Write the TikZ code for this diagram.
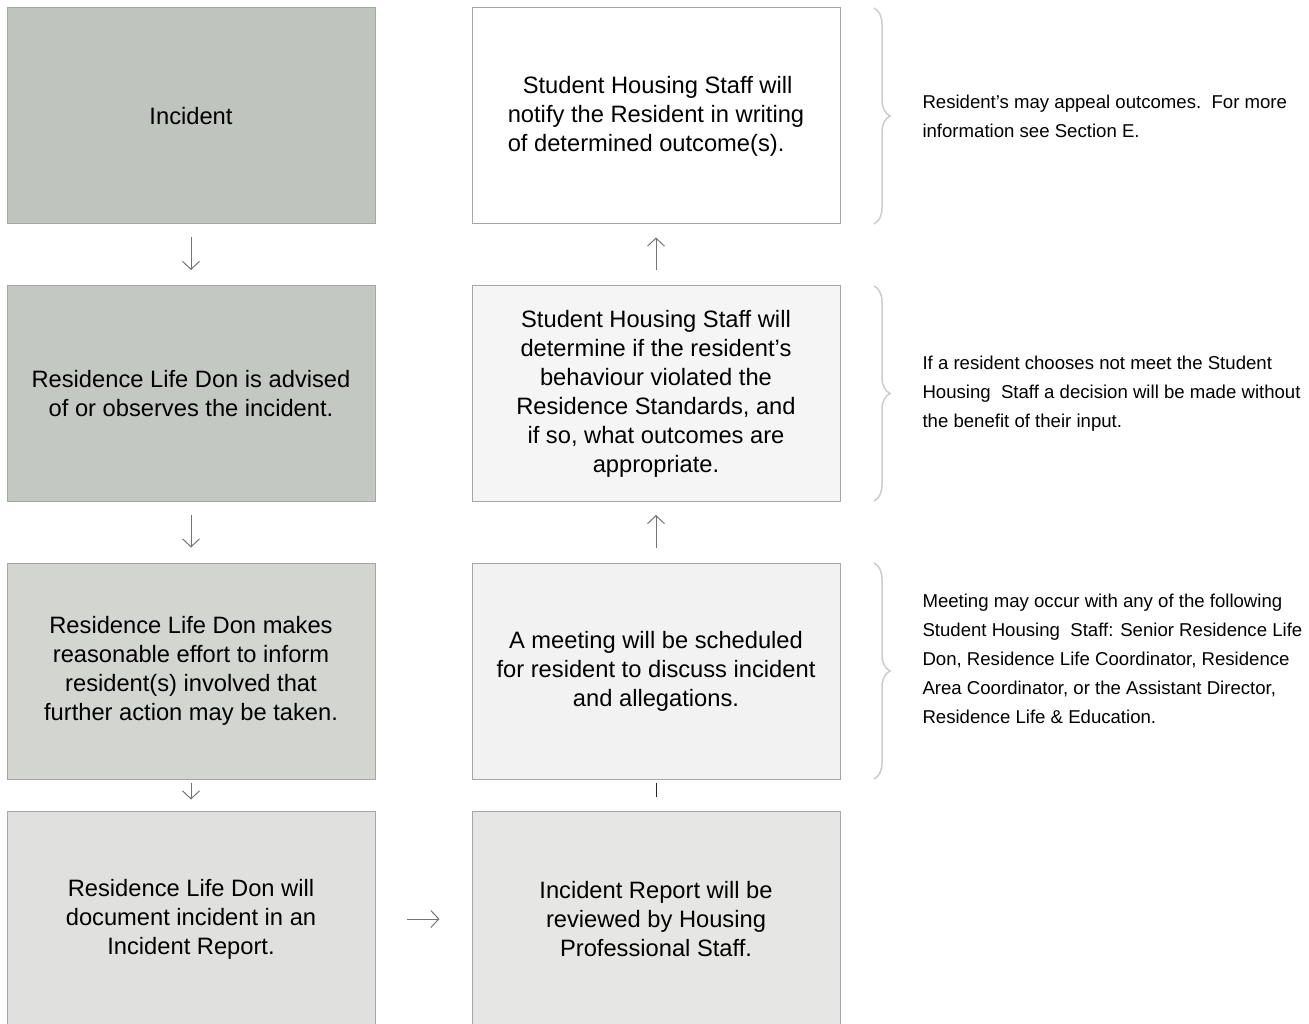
\documentclass[tikz,border=0pt]{standalone}
\usepackage{fontspec}
\setmainfont{Liberation Sans}
\usetikzlibrary{arrows.meta,decorations.pathreplacing}

\definecolor{fillA}{HTML}{BFC4BE}
\definecolor{fillB}{HTML}{C4C8C2}
\definecolor{fillC}{HTML}{D3D5D1}
\definecolor{fillD}{HTML}{E0E1DE}
\definecolor{fillE}{HTML}{F5F5F5}
\definecolor{fillF}{HTML}{F2F2F2}
\definecolor{fillG}{HTML}{E6E7E4}
\definecolor{edgegray}{HTML}{A6A6A6}

\tikzset{
  stepbox/.style={draw=edgegray,line width=1pt,minimum width=368,minimum height=216,
    inner sep=0pt,align=center,font=\fontsize{23.7}{29}\selectfont},
  sidenote/.style={anchor=west,align=left,inner sep=0pt,font=\fontsize{18.6}{29}\selectfont},
  bracket/.style={draw=black!20,line width=1.5pt,decorate,decoration={brace,amplitude=16}}
}

\begin{document}
\begin{tikzpicture}[x=1pt,y=-1pt,>={Straight Barb[length=8pt,width=17pt]},line width=1pt]
  \useasboundingbox (0,0) rectangle (1309,1024);
  \clip (0,0) rectangle (1309,1024);
  \node[stepbox,fill=fillA] (l1) at (191, 116) {Incident};
  \node[stepbox,fill=fillB] (l2) at (191, 393.5) {Residence Life Don is advised\\of or observes the incident.};
  \node[stepbox,fill=fillC] (l3) at (191, 671) {Residence Life Don makes\\reasonable effort to inform\\resident(s) involved that\\further action may be taken.};
  \node[stepbox,fill=fillD] (l4) at (191, 919) {Residence Life Don will\\document incident in an\\Incident Report.};
  \node[stepbox,fill=white,align=left] (r1) at (656, 116) {\hspace*{15pt}Student Housing Staff will\\notify the Resident in writing\\of determined outcome(s).};
  \node[stepbox,fill=fillE] (r2) at (656, 393.5) {Student Housing Staff will\\determine if the resident's\\behaviour violated the\\Residence Standards, and\\if so, what outcomes are\\appropriate.};
  \node[stepbox,fill=fillF] (r3) at (656, 671) {A meeting will be scheduled\\for resident to discuss incident\\and allegations.};
  \node[stepbox,fill=fillG] (r4) at (656, 919) {Incident Report will be\\reviewed by Housing\\Professional Staff.};
  \path[->,draw=black!55] (l1) edge[shorten <=13pt,shorten >=15pt] (l2);
  \path[->,draw=black!55] (l2) edge[shorten <=13pt,shorten >=15pt] (l3);
  \path[->,draw=black!55] (l3) edge[shorten <=3pt,shorten >=11pt] (l4);
  \path[->,draw=black!55] (l4) edge[shorten <=31pt,shorten >=32pt] (r4);
  \path[draw=black!85] (r4) edge[shorten <=14pt,shorten >=3pt] (r3);
  \path[->,draw=black!55] (r3) edge[shorten <=15pt,shorten >=13pt] (r2);
  \path[->,draw=black!55] (r2) edge[shorten <=15pt,shorten >=13pt] (r1);
  \draw[bracket] (874,8) -- (874,224);
  \draw[bracket] (874,286) -- (874,501);
  \draw[bracket] (874,563) -- (874,779);
  \node[sidenote] (n1) at (922, 116) {Resident's may appeal outcomes.\ \ For more\\information see Section E.};
  \node[sidenote] (n2) at (922, 394) {If a resident chooses not meet the Student\\Housing\ \ Staff a decision will be made without\\the benefit of their input.};
  \node[sidenote] (n3) at (922, 659) {Meeting may occur with any of the following\\Student Housing\ \ Staff: Senior Residence Life\\Don, Residence Life Coordinator, Residence\\Area Coordinator, or the Assistant Director,\\Residence Life \& Education.};
\end{tikzpicture}
\end{document}
